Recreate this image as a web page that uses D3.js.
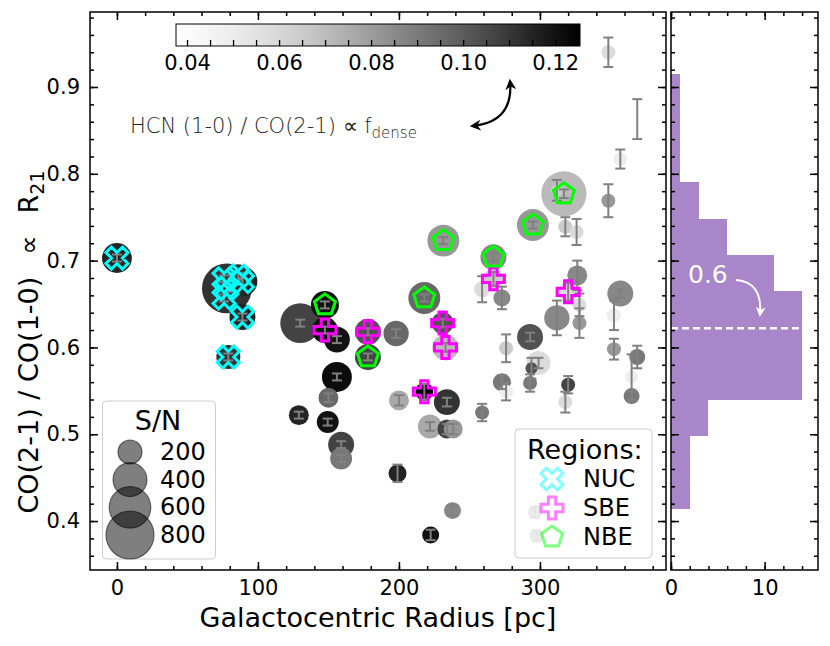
<!DOCTYPE html>
<html lang="en">
<head>
<meta charset="UTF-8">
<title>R21 vs galactocentric radius</title>
<script src="https://cdn.jsdelivr.net/npm/d3@7/dist/d3.min.js"></script>
<style>
    body { margin: 0; background: #fff; }
    text { font-family: "DejaVu Sans", sans-serif; }
</style>
</head>
<body>
<svg width="830" height="646" id="main"></svg>
<script>

    // ---- data ----
    const radius = [0, 78, 89, 76, 86, 76, 89, 79,
        147.5, 178, 218, 231, 233, 267, 320,
        147.5, 178, 218, 231.5, 267, 295, 317,
        130, 156, 198, 156, 150, 129, 149.5, 159, 159, 200, 234, 222, 234, 238.5, 199, 238, 222.5,
        259, 273, 326.5, 312, 328, 328, 357, 352.5, 352.5, 369, 365, 365,
        276, 293, 299, 294, 293, 273, 276, 320, 318, 259,
        348.5, 369, 357, 312, 348.5, 318, 326, 296.5, 297.6];
    const r21 = [0.703, 0.668, 0.676, 0.679, 0.682, 0.657, 0.635, 0.589,
        0.620, 0.618, 0.549, 0.628, 0.600, 0.679, 0.664,
        0.649, 0.589, 0.657, 0.723, 0.704, 0.741, 0.777,
        0.628, 0.609, 0.616, 0.566, 0.542, 0.522, 0.514, 0.488, 0.472, 0.539, 0.537, 0.509, 0.506, 0.506, 0.455, 0.412, 0.384,
        0.667, 0.657, 0.683, 0.634, 0.649, 0.628, 0.662, 0.637, 0.598, 0.589, 0.566, 0.544,
        0.599, 0.612, 0.582, 0.576, 0.559, 0.560, 0.549, 0.557, 0.537, 0.525,
        0.940, 0.863, 0.817, 0.781, 0.769, 0.739, 0.733, 0.410, 0.383];
    const r21Err = [0.004, 0.004, 0.004, 0.004, 0.004, 0.004, 0.004, 0.004,
        0.004, 0.004, 0.009, 0.005, 0.005, 0.008, 0.010,
        0.004, 0.004, 0.004, 0.004, 0.005, 0.004, 0.005,
        0.004, 0.004, 0.005, 0.004, 0.005, 0.004, 0.004, 0.004, 0.004, 0.006, 0.005, 0.005, 0.006, 0.006, 0.010, 0.006, 0.006,
        0.015, 0.013, 0.017, 0.020, 0.013, 0.017, 0.005, 0.017, 0.012, 0.013, 0.026, 0.006,
        0.016, 0.005, 0.006, 0.012, 0.010, 0.008, 0.010, 0.010, 0.012, 0.010,
        0.017, 0.023, 0.011, 0.012, 0.019, 0.011, 0.015, 0.006, 0.006];
    const snr = [310, 865, 310, 200, 200, 140, 234, 200,
        234, 234, 112, 167, 234, 138, 138,
        271, 234, 354, 354, 234, 354, 710,
        554, 234, 223, 311, 138, 138, 167, 234, 167, 138, 234, 199, 125, 125, 112, 100, 100,
        89, 100, 138, 223, 68, 68, 234, 68, 68, 89, 55, 89,
        68, 234, 199, 50, 68, 112, 68, 68, 68, 68,
        68, 50, 68, 50, 68, 68, 68, 68, 68];
    const hcnCo = [0.115, 0.111, 0.115, 0.111, 0.111, 0.111, 0.115, 0.111,
        0.120, 0.103, 0.125, 0.103, 0.071, 0.065, 0.058,
        0.120, 0.107, 0.096, 0.081, 0.086, 0.081, 0.071,
        0.107, 0.120, 0.096, 0.122, 0.096, 0.115, 0.120, 0.107, 0.091, 0.076, 0.111, 0.076, 0.107, 0.081, 0.115, 0.086, 0.120,
        0.058, 0.086, 0.086, 0.086, 0.058, 0.081, 0.086, 0.049, 0.081, 0.091, 0.049, 0.091,
        0.065, 0.103, 0.058, 0.103, 0.091, 0.091, 0.049, 0.107, 0.058, 0.091,
        0.058, 0.036, 0.049, 0.065, 0.081, 0.065, 0.058, 0.081, 0.081];
    const region = ["NUC", "NUC", "NUC", "NUC", "NUC", "NUC", "NUC", "NUC",
        "SBE", "SBE", "SBE", "SBE", "SBE", "SBE", "SBE",
        "NBE", "NBE", "NBE", "NBE", "NBE", "NBE", "NBE"];

    // histogram of R21 (right panel)
    const histEdges = [0.414, 0.456, 0.498, 0.540, 0.582, 0.623, 0.665, 0.707, 0.748, 0.790, 0.832, 0.873, 0.915];
    const histCounts = [2, 2, 4, 14, 14, 14, 11, 6, 3, 1, 1, 1];
    const histMedian = 0.622;
    const medianLabel = "0.6";

    const xTicks = [0, 100, 200, 300];
    const yTicks = [0.4, 0.5, 0.6, 0.7, 0.8, 0.9];
    const histTicks = [0, 10];
    const cbTicks = [0.04, 0.06, 0.08, 0.10, 0.12];
    const snLegend = [200, 400, 600, 800];
    const regionNames = ["NUC", "SBE", "NBE"];

    draw();

    function draw() {
        const svg = d3.select('#main');
        const m = {left: 90, right: 666, top: 12, bottom: 570};
        const h = {left: 671, right: 818};

        const x = d3.scaleLinear().domain([-19.1, 389.4]).range([m.left, m.right]);
        const y = d3.scaleLinear().domain([0.3436, 0.9864]).range([m.bottom, m.top]);
        const hx = d3.scaleLinear().domain([0, 15.7]).range([h.left, h.right]);
        const color = d3.scaleSequential(d3.interpolateGreys).domain([0.0376, 0.1254]).clamp(true);
        const size = d3.scaleSqrt().domain([0, 800]).range([0, 24]);
        const regionColor = {NUC: '#00ffff', SBE: '#ff00ff', NBE: '#00ff00'};

        const pts = radius.map((r, i) => ({
            r: r, v: r21[i], e: r21Err[i], sn: snr[i], c: hcnCo[i], reg: region[i] || null
        }));

        const defs = svg.append('defs');
        defs.append('clipPath').attr('id', 'clipMain')
            .append('rect').attr('x', m.left).attr('y', m.top)
            .attr('width', m.right - m.left).attr('height', m.bottom - m.top);

        // ---- points ----
        const gp = svg.append('g').attr('clip-path', 'url(#clipMain)');
        gp.append('g').selectAll('circle')
            .data(pts.slice().sort((a, b) => b.sn - a.sn))
            .join('circle')
            .attr('cx', d => x(d.r))
            .attr('cy', d => y(d.v))
            .attr('r', d => size(d.sn))
            .attr('fill', d => color(d.c));

        const ge = gp.append('g').attr('stroke', '#808080').attr('stroke-width', 2);
        ge.selectAll('line.bar').data(pts).join('line').attr('class', 'bar')
            .attr('x1', d => x(d.r)).attr('x2', d => x(d.r))
            .attr('y1', d => y(d.v - d.e)).attr('y2', d => y(d.v + d.e));
        ge.selectAll('line.capLo').data(pts).join('line').attr('class', 'capLo')
            .attr('x1', d => x(d.r) - 5).attr('x2', d => x(d.r) + 5)
            .attr('y1', d => y(d.v - d.e)).attr('y2', d => y(d.v - d.e));
        ge.selectAll('line.capHi').data(pts).join('line').attr('class', 'capHi')
            .attr('x1', d => x(d.r) - 5).attr('x2', d => x(d.r) + 5)
            .attr('y1', d => y(d.v + d.e)).attr('y2', d => y(d.v + d.e));

        gp.append('g').selectAll('path')
            .data(pts.filter(d => d.reg))
            .join('path')
            .attr('transform', d => `translate(${x(d.r)},${y(d.v)})`)
            .attr('d', d => markerPath(d.reg, 22))
            .attr('fill', 'none')
            .attr('stroke', d => regionColor[d.reg])
            .attr('stroke-width', 3)
            .attr('stroke-linejoin', 'miter');

        // ---- histogram ----
        const bins = histCounts.map((n, i) => ({lo: histEdges[i], hi: histEdges[i + 1], n: n}));
        svg.append('g').attr('shape-rendering', 'crispEdges')
            .selectAll('rect')
            .data(bins)
            .join('rect')
            .attr('x', hx(0))
            .attr('y', d => Math.round(y(d.hi)))
            .attr('width', d => hx(d.n) - hx(0))
            .attr('height', d => Math.round(y(d.lo)) - Math.round(y(d.hi)))
            .attr('fill', '#9467bd')
            .attr('fill-opacity', 0.8);

        svg.append('line')
            .attr('x1', hx(0)).attr('x2', hx(d3.max(histCounts)))
            .attr('y1', y(histMedian)).attr('y2', y(histMedian))
            .attr('stroke', '#fff').attr('stroke-width', 2.5)
            .attr('stroke-dasharray', '7,4');

        svg.append('text')
            .attr('x', 688).attr('y', 274)
            .attr('dominant-baseline', 'central')
            .attr('font-size', 25).attr('fill', '#fff')
            .text(medianLabel);

        const arrowW = defs.append('marker').attr('id', 'headW')
            .attr('viewBox', '0 0 10 10').attr('refX', 8).attr('refY', 5)
            .attr('markerWidth', 5).attr('markerHeight', 5)
            .attr('markerUnits', 'strokeWidth')
            .attr('orient', 'auto-start-reverse');
        arrowW.append('path').attr('d', 'M0,0 L10,5 L0,10 L3,5 Z').attr('fill', '#fff');
        svg.append('path')
            .attr('d', 'M736,280 Q763,282 760,315')
            .attr('fill', 'none').attr('stroke', '#fff').attr('stroke-width', 2)
            .attr('marker-end', 'url(#headW)');

        // ---- colorbar ----
        const cb = {x0: 176, x1: 580, y0: 24, y1: 46};
        const cbx = d3.scaleLinear().domain(color.domain()).range([cb.x0, cb.x1]);
        const grad = defs.append('linearGradient').attr('id', 'cbGrad');
        d3.range(0, 1.0001, 0.05).forEach(t => {
            const v = cbx.domain()[0] + t * (cbx.domain()[1] - cbx.domain()[0]);
            grad.append('stop').attr('offset', t).attr('stop-color', color(v));
        });
        svg.append('rect')
            .attr('x', cb.x0).attr('y', cb.y0)
            .attr('width', cb.x1 - cb.x0).attr('height', cb.y1 - cb.y0)
            .attr('fill', 'url(#cbGrad)').attr('stroke', '#000').attr('stroke-width', 1);
        const cbAxis = svg.append('g').attr('transform', `translate(0,${cb.y1})`)
            .call(d3.axisBottom(cbx).tickValues(d3.range(0.04, 0.1254, 0.005))
                .tickSize(-6).tickSizeOuter(0).tickFormat(''));
        cbAxis.select('.domain').remove();
        cbAxis.selectAll('line').attr('stroke-width', 1.3);
        const cbLab = svg.append('g').attr('transform', `translate(0,${cb.y1})`)
            .call(d3.axisBottom(cbx).tickValues(cbTicks).tickSize(0).tickPadding(9)
                .tickFormat(d3.format('.2f')));
        cbLab.select('.domain').remove();
        cbLab.attr('font-size', 21).attr('font-family', '"DejaVu Sans", sans-serif');

        // annotation
        const ann = svg.append('text')
            .attr('x', 130).attr('y', 133)
            .attr('font-size', 21).attr('font-weight', 200).attr('fill', '#222');
        ann.append('tspan').text('HCN (1-0) / CO(2-1) \u221d f');
        ann.append('tspan').attr('font-size', 15).attr('dy', 5).text('dense');

        const arrowK = defs.append('marker').attr('id', 'headK')
            .attr('viewBox', '0 0 10 10').attr('refX', 8).attr('refY', 5)
            .attr('markerWidth', 5).attr('markerHeight', 5)
            .attr('markerUnits', 'strokeWidth')
            .attr('orient', 'auto-start-reverse');
        arrowK.append('path').attr('d', 'M0,0 L10,5 L0,10 L3,5 Z').attr('fill', '#000');
        svg.append('path')
            .attr('d', 'M472,126 Q514,122 510,81')
            .attr('fill', 'none').attr('stroke', '#000').attr('stroke-width', 2.2)
            .attr('marker-start', 'url(#headK)')
            .attr('marker-end', 'url(#headK)');

        // ---- legends ----
        const lg1 = svg.append('g');
        lg1.append('rect').attr('x', 102.5).attr('y', 401).attr('width', 113).attr('height', 158)
            .attr('rx', 4).attr('fill', '#fff').attr('fill-opacity', 0.8)
            .attr('stroke', '#ccc').attr('stroke-width', 1);
        lg1.append('text').attr('x', 158).attr('y', 430).attr('text-anchor', 'middle')
            .attr('font-size', 27).text('S/N');
        const snRow = d3.scaleLinear().domain([0, snLegend.length - 1]).range([452, 535]);
        lg1.selectAll('circle').data(snLegend).join('circle')
            .attr('cx', 130).attr('cy', (d, i) => snRow(i))
            .attr('r', d => size(d))
            .attr('fill', '#000').attr('fill-opacity', 0.5)
            .attr('stroke', '#000').attr('stroke-opacity', 0.5).attr('stroke-width', 1.2);
        lg1.selectAll('text.lab').data(snLegend).join('text').attr('class', 'lab')
            .attr('x', 160).attr('y', (d, i) => snRow(i))
            .attr('dominant-baseline', 'central')
            .attr('font-size', 24).text(d => d);

        const lg2 = svg.append('g');
        lg2.append('rect').attr('x', 515).attr('y', 429).attr('width', 137).attr('height', 129)
            .attr('rx', 4).attr('fill', '#fff').attr('fill-opacity', 0.8)
            .attr('stroke', '#ccc').attr('stroke-width', 1);
        lg2.append('text').attr('x', 527).attr('y', 459)
            .attr('font-size', 27).text('Regions:');
        const regRow = d3.scaleLinear().domain([0, regionNames.length - 1]).range([479, 537]);
        lg2.selectAll('path').data(regionNames).join('path')
            .attr('transform', (d, i) => `translate(552,${regRow(i)})`)
            .attr('d', d => markerPath(d, 22))
            .attr('fill', 'none').attr('stroke', d => regionColor[d])
            .attr('stroke-opacity', 0.5).attr('stroke-width', 3);
        lg2.selectAll('text.lab').data(regionNames).join('text').attr('class', 'lab')
            .attr('x', 583).attr('y', (d, i) => regRow(i))
            .attr('dominant-baseline', 'central')
            .attr('font-size', 24).text(d => d);

        // ---- frames and ticks ----
        svg.append('rect').attr('x', m.left).attr('y', m.top)
            .attr('width', m.right - m.left).attr('height', m.bottom - m.top)
            .attr('fill', 'none').attr('stroke', '#000').attr('stroke-width', 1.5);
        svg.append('rect').attr('x', h.left).attr('y', m.top)
            .attr('width', h.right - h.left).attr('height', m.bottom - m.top)
            .attr('fill', 'none').attr('stroke', '#000').attr('stroke-width', 1.5);

        const yMinor = d3.range(0.36, 0.985, 0.02);
        const xMinor = d3.range(0, 390, 20);
        const hMinor = d3.range(0, 16, 2);

        axis(svg, d3.axisLeft, y, `translate(${m.left},0)`, yTicks, yMinor, d3.format('.1f'));
        axis(svg, d3.axisRight, y, `translate(${m.right},0)`, yTicks, yMinor, null);
        axis(svg, d3.axisBottom, x, `translate(0,${m.bottom})`, xTicks, xMinor, d3.format('d'));
        axis(svg, d3.axisTop, x, `translate(0,${m.top})`, xTicks, xMinor, null);
        axis(svg, d3.axisLeft, y, `translate(${h.left},0)`, yTicks, yMinor, null);
        axis(svg, d3.axisRight, y, `translate(${h.right},0)`, yTicks, yMinor, null);
        axis(svg, d3.axisBottom, hx, `translate(0,${m.bottom})`, histTicks, hMinor, d3.format('d'));
        axis(svg, d3.axisTop, hx, `translate(0,${m.top})`, histTicks, hMinor, null);

        // axis titles
        svg.append('text')
            .attr('x', (m.left + m.right) / 2).attr('y', 627)
            .attr('text-anchor', 'middle').attr('font-size', 27)
            .text('Galactocentric Radius [pc]');

        const yl = svg.append('text')
            .attr('transform', 'translate(38,342) rotate(-90)')
            .attr('text-anchor', 'middle').attr('font-size', 27);
        yl.append('tspan').text('CO(2-1) / CO(1-0)');
        yl.append('tspan').attr('dx', 22).text('\u221d');
        yl.append('tspan').attr('dx', 22).text('R');
        yl.append('tspan').attr('font-size', 19).attr('dy', 6).text('21');
    }

    function axis(svg, gen, scale, tr, major, minor, fmt) {
        const g1 = svg.append('g').attr('transform', tr)
            .call(gen(scale).tickValues(minor).tickSize(-4).tickSizeOuter(0).tickFormat(''));
        const g2 = svg.append('g').attr('transform', tr)
            .call(gen(scale).tickValues(major).tickSize(-8).tickSizeOuter(0).tickPadding(10)
                .tickFormat(fmt || (() => '')));
        [g1, g2].forEach(g => {
            g.select('.domain').remove();
            g.selectAll('line').attr('stroke-width', 1.5);
            g.attr('font-size', 21).attr('font-family', '"DejaVu Sans", sans-serif');
        });
    }

    function markerPath(kind, s) {
        let pts;
        if (kind === 'NUC') {
            pts = [[-1, -2], [0, -1], [1, -2], [2, -1], [1, 0], [2, 1],
                [1, 2], [0, 1], [-1, 2], [-2, 1], [-1, 0], [-2, -1]].map(p => [p[0] / 4, p[1] / 4]);
        } else if (kind === 'SBE') {
            pts = [[-1, -3], [-1, -1], [-3, -1], [-3, 1], [-1, 1], [-1, 3],
                [1, 3], [1, 1], [3, 1], [3, -1], [1, -1], [1, -3]].map(p => [p[0] / 6, p[1] / 6]);
        } else {
            pts = d3.range(5).map(k => {
                const a = (-90 + 72 * k) * Math.PI / 180;
                return [0.5 * Math.cos(a), 0.5 * Math.sin(a)];
            });
        }
        return 'M' + pts.map(p => (p[0] * s).toFixed(2) + ',' + (p[1] * s).toFixed(2)).join('L') + 'Z';
    }
</script>
</body>
</html>
